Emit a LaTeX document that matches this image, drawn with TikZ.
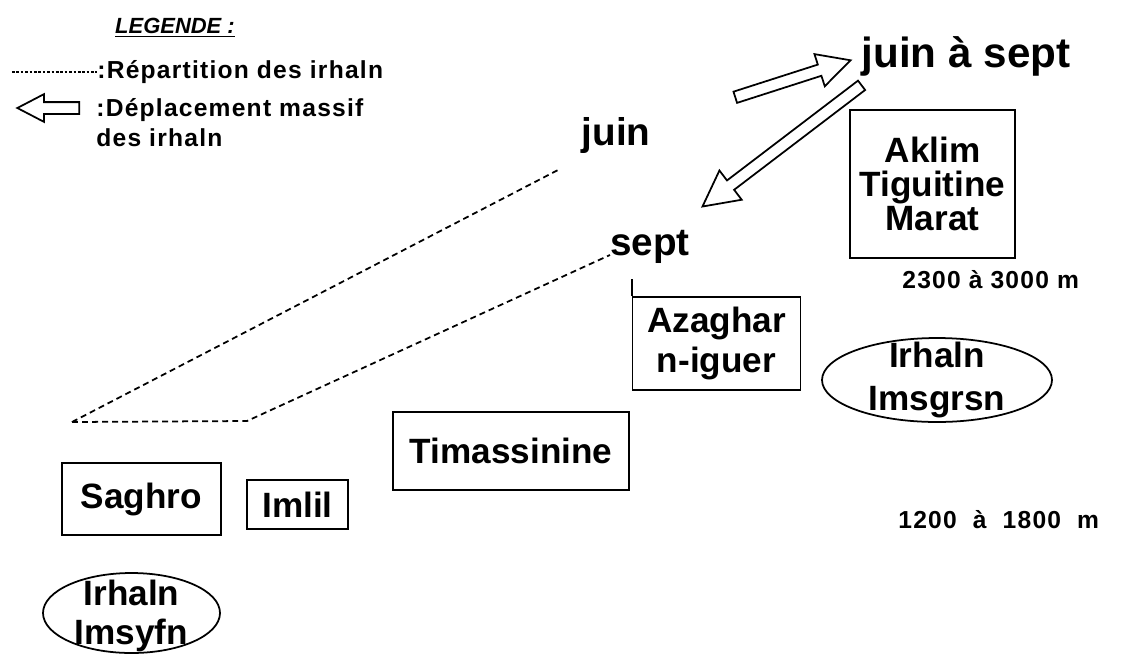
\documentclass[tikz,border=0pt]{standalone}
\usepackage{fontspec}
\setmainfont{Liberation Sans}
\newfontfamily\espace{Liberation Sans}[LetterSpace=5]
\usetikzlibrary{shapes.geometric,shapes.arrows}

\tikzset{
  mois/.style={font=\fontsize{22}{26}\selectfont\bfseries, inner sep=0pt},
  lieu/.style={draw, line width=1pt, font=\fontsize{20}{19.5}\selectfont\bfseries, align=center},
  groupe/.style={draw, ellipse, line width=1pt, inner sep=0pt},
  groupetexte/.style={font=\fontsize{20}{24}\selectfont\bfseries, align=center, inner sep=0pt},
  petit/.style={font=\espace\fontsize{14}{17}\selectfont\bfseries, inner sep=0pt, align=left},
  repartition/.style={line width=1pt, dash pattern=on 3.4pt off 2.3pt},
  pointilles/.style={line width=0.7pt, dash pattern=on 1.5pt off 1pt},
  fleche/.style={draw, line width=1pt, single arrow, single arrow tip angle=55,
    single arrow head extend=0.25cm, inner sep=0.1cm}
}

\begin{document}
\begin{tikzpicture}
  \useasboundingbox (0,0) rectangle (22.5,-13.1);

  % légende
  \node[font=\fontsize{12.5}{14}\selectfont\bfseries\itshape, inner sep=0pt] (legende) at (3.5,-0.56) {\underline{LEGENDE :}};
  \coordinate (lg1) at (0.24,-1.44);
  \node[petit, anchor=west] (repart) at (1.94,-1.44) {:Répartition des irhaln};
  \draw[pointilles] (lg1) -- (repart.west);
  \node[fleche, minimum height=1.24cm, single arrow head extend=0.16cm, rotate=180] (flegende) at (1.08,-2.16) {};
  \node[petit, anchor=west] (deplac) at (1.92,-2.46) {:Déplacement massif\\des irhaln};

  % mois
  \node[mois, anchor=base] (juin) at (12.32,-2.9) {juin};
  \node[mois, anchor=base] (sept) at (13.0,-5.1) {sept};
  \node[mois, font=\fontsize{24}{28}\selectfont\bfseries, anchor=base] (juinsept) at (19.32,-1.34) {juin à sept};

  % déplacements massifs
  \node[fleche, minimum height=2.42cm, single arrow head extend=0.22cm, rotate=17.8] (aller) at (15.75,-1.61) {};
  \node[fleche, minimum height=4.0cm, rotate=217.3] (retour) at (15.73,-2.85) {};

  % lieux
  \node[lieu, minimum width=3.3cm, minimum height=2.96cm] (aklim) at (18.65,-3.68) {Aklim\\Tiguitine\\Marat};
  \node[lieu, minimum width=3.36cm, minimum height=1.86cm, font=\fontsize{20}{23}\selectfont\bfseries] (azaghar) at (14.33,-6.87) {Azaghar\\n-iguer};
  \draw[line width=1pt] (azaghar.north west) -- ++(0,0.34);
  \node[lieu, minimum width=4.72cm, minimum height=1.56cm] (timassinine) at (10.22,-9.02) {Timassinine};
  \node[lieu, minimum width=3.18cm, minimum height=1.44cm] (saghro) at (2.83,-9.98) {Saghro};
  \node[lieu, minimum width=2.02cm, minimum height=0.98cm] (imlil) at (5.95,-10.09) {Imlil};

  % altitudes
  \node[petit, anchor=base west] (haut) at (18.04,-5.76) {2300 à 3000 m};
  \node[petit, anchor=base west] (bas) at (17.96,-10.56) {1200~ à~ 1800~ m};

  % groupes
  \node[groupe, minimum width=4.6cm, minimum height=1.68cm, label={[groupetexte]center:Irhaln\\Imsgrsn}] (imsgrsn) at (18.74,-7.6) {};
  \node[groupe, minimum width=3.54cm, minimum height=1.6cm, label={[groupetexte, font=\fontsize{20}{22}\selectfont\bfseries, yshift=-0.06cm]center:Irhaln\\Imsyfn}] (imsyfn) at (2.63,-12.26) {};

  % répartition
  \coordinate (depart) at (1.44,-8.44);
  \coordinate (coude) at (4.94,-8.42);
  \coordinate (finjuin) at (11.16,-3.4);
  \draw[repartition] (depart) -- (finjuin);
  \draw[repartition] (depart) -- (coude) -- (sept.base west);
\end{tikzpicture}
\end{document}
